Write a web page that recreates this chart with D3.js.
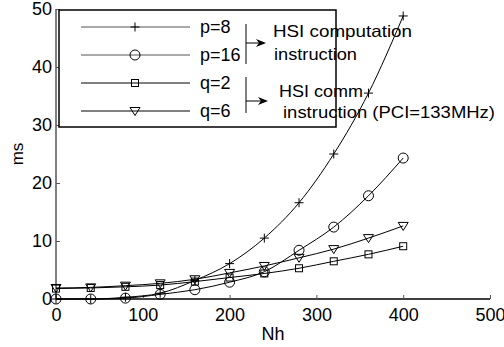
<!DOCTYPE html>
<html><head><meta charset="utf-8">
<script src="https://cdn.jsdelivr.net/npm/d3@7"></script>
<style>body{margin:0;background:#fff}svg{display:block}text{font-family:"Liberation Sans",Arial,sans-serif}</style>
</head><body>
<script>
const nh = [0,40,80,120,160,200,240,280,320,360,400];
const p8  = [0, 0, 0.3, 1.0, 3.2, 6.1, 10.5, 16.6, 25.0, 35.5, 48.8];
const p16 = [0, 0, 0.15, 0.8, 1.6, 2.9, 4.7, 8.4, 12.4, 17.8, 24.3];
const q2  = [1.8, 1.9, 2.1, 2.4, 3.0, 3.7, 4.4, 5.3, 6.5, 7.7, 9.1];
const q6  = [1.9, 2.0, 2.3, 2.7, 3.4, 4.5, 5.7, 7.1, 8.6, 10.5, 12.6];
const seriesNames = ["p=8","p=16","q=2","q=6"];
const markers = ["plus","circle","square","tri"];
const xTicks = [0,100,200,300,400,500];
const yTicks = [0,10,20,30,40,50];
const noteTexts = [["HSI computation","instruction"],["HSI comm","instruction (PCI=133MHz)"]];

const W=504,H=347;
const svg=d3.select("body").append("svg").attr("width",W).attr("height",H);
const x=d3.scaleLinear().domain([0,500]).range([56,490]);
const y=d3.scaleLinear().domain([0,50]).range([299,9]);

function drawMarker(g,type,cx,cy,color){
  if(type==="plus"){
    g.append("path").attr("d",`M${cx-4.5},${cy}H${cx+4.5}M${cx},${cy-4.5}V${cy+4.5}`).attr("stroke",color).attr("stroke-width",1).attr("fill","none");
  }else if(type==="circle"){
    g.append("circle").attr("cx",cx).attr("cy",cy).attr("r",5).attr("fill","none").attr("stroke",color).attr("stroke-width",1);
  }else if(type==="square"){
    g.append("rect").attr("x",cx-3.5).attr("y",cy-3.5).attr("width",7).attr("height",7).attr("fill","none").attr("stroke",color).attr("stroke-width",1);
  }else{
    g.append("path").attr("d",`M${cx-5},${cy-3.5}L${cx+5},${cy-3.5}L${cx},${cy+4.5}Z`).attr("fill","none").attr("stroke",color).attr("stroke-width",1);
  }
}

// axes
const yAxis=d3.axisLeft(y).tickValues(yTicks).tickSize(-4).tickPadding(4);
const gy=svg.append("g").attr("transform","translate(56,0)").call(yAxis);
gy.select(".domain").attr("d","M0,9V299").attr("stroke","#808080").attr("stroke-width",2);
gy.selectAll(".tick line").attr("stroke","#555");
gy.selectAll("text").attr("font-size",18).attr("fill","#000");

const xAxis=d3.axisBottom(x).tickValues(xTicks).tickSize(-4).tickPadding(9);
const gx=svg.append("g").attr("transform","translate(0,299)").call(xAxis);
gx.select(".domain").attr("d","M56,0H490").attr("stroke","#000").attr("stroke-width",1.5);
gx.selectAll(".tick line").attr("stroke","#555");
gx.selectAll("text").attr("font-size",18).attr("fill","#000");

svg.append("text").attr("transform","translate(23,154) rotate(-90)").attr("text-anchor","middle").attr("font-size",17).text("ms");
svg.append("text").attr("x",273).attr("y",340).attr("text-anchor","middle").attr("font-size",18).text("Nh");

// legend
const lg=svg.append("g");
lg.append("rect").attr("x",59).attr("y",10).attr("width",277).attr("height",117).attr("fill","#fff").attr("stroke","#000").attr("stroke-width",1.5);
const legY=[27,55,83,111];
const legCol=["#555","#555","#000","#000"];
seriesNames.forEach((n,i)=>{
  lg.append("line").attr("x1",81).attr("x2",190).attr("y1",legY[i]).attr("y2",legY[i]).attr("stroke",legCol[i]).attr("stroke-width",1);
  drawMarker(lg,markers[i],135,legY[i],"#000");
  lg.append("text").attr("x",200).attr("y",legY[i]+6).attr("font-size",18).text(n);
});
// brackets + arrows
const br=[
  {y1:24,y2:64,ay:43,ax:266,t:[[273,37,139],[274,60,83]]},
  {y1:77,y2:113,ay:101,ax:268,t:[[279,97,84],[283,118,212]]}
];
br.forEach((b,i)=>{
  lg.append("line").attr("x1",246).attr("x2",246).attr("y1",b.y1).attr("y2",b.y2).attr("stroke","#000");
  lg.append("line").attr("x1",246).attr("x2",b.ax-6).attr("y1",b.ay).attr("y2",b.ay).attr("stroke","#000");
  lg.append("path").attr("d",`M${b.ax},${b.ay}L${b.ax-10},${b.ay-4}L${b.ax-7},${b.ay}L${b.ax-10},${b.ay+4}Z`).attr("fill","#000");
  b.t.forEach((t,j)=>{
    lg.append("text").attr("x",t[0]).attr("y",t[1]).attr("font-size",16.5)
      .attr("textLength",t[2]).attr("lengthAdjust","spacingAndGlyphs").text(noteTexts[i][j]);
  });
});

// series
const all=[p8,p16,q2,q6];
const line=d3.line().x((d,i)=>x(nh[i])).y(d=>y(d)).curve(d3.curveMonotoneX);
all.forEach((s,k)=>{
  const g=svg.append("g");
  g.append("path").attr("d",line(s)).attr("fill","none").attr("stroke","#000").attr("stroke-width",1);
  s.forEach((v,i)=>drawMarker(g,markers[k],x(nh[i]),y(v),"#000"));
});
</script>
</body></html>
